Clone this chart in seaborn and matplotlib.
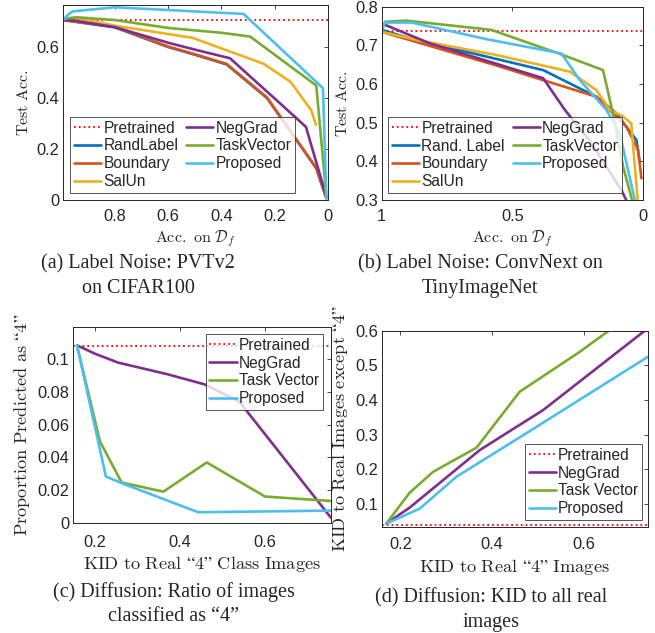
import pandas as pd
import matplotlib
matplotlib.use('Agg')
import matplotlib.pyplot as plt
import seaborn as sns
from matplotlib.ticker import FuncFormatter

# ---- (a) Label noise: PVTv2 on CIFAR100 ----
a_pretrained = 0.705
a_randlabel_x = [0.995, 0.80, 0.60, 0.50, 0.381, 0.229, 0.044, 0.006]
a_randlabel_y = [0.706, 0.677, 0.600, 0.570, 0.532, 0.400, 0.124, 0.006]
a_boundary_x = [0.995, 0.80, 0.60, 0.50, 0.381, 0.229, 0.044, 0.006]
a_boundary_y = [0.706, 0.679, 0.602, 0.572, 0.534, 0.402, 0.126, 0.008]
a_salun_x = [0.995, 0.94, 0.80, 0.60, 0.508, 0.241, 0.14, 0.063, 0.045]
a_salun_y = [0.706, 0.714, 0.684, 0.651, 0.636, 0.534, 0.463, 0.352, 0.295]
a_neggrad_x = [0.995, 0.952, 0.80, 0.60, 0.50, 0.368, 0.165, 0.083, 0.006]
a_neggrad_y = [0.706, 0.704, 0.678, 0.617, 0.590, 0.556, 0.365, 0.287, 0.013]
a_taskvec_x = [0.995, 0.946, 0.80, 0.60, 0.40, 0.292, 0.044, 0.006]
a_taskvec_y = [0.710, 0.717, 0.706, 0.675, 0.656, 0.641, 0.449, 0.013]
a_proposed_x = [0.995, 0.975, 0.959, 0.80, 0.317, 0.019, 0.006]
a_proposed_y = [0.706, 0.728, 0.740, 0.756, 0.730, 0.439, 0.006]

# ---- (b) Label noise: ConvNext on TinyImageNet ----
b_pretrained = 0.737
b_randlabel_x = [1.0, 0.892, 0.624, 0.382, 0.178, 0.102, 0.025, 0.013]
b_randlabel_y = [0.740, 0.718, 0.675, 0.636, 0.567, 0.524, 0.455, 0.40]
b_boundary_x = [1.0, 0.561, 0.382, 0.178, 0.115, 0.064, 0.019, 0.006]
b_boundary_y = [0.735, 0.648, 0.610, 0.567, 0.524, 0.490, 0.430, 0.356]
b_salun_x = [1.0, 0.866, 0.561, 0.28, 0.178, 0.127, 0.076, 0.045, 0.019]
b_salun_y = [0.735, 0.714, 0.675, 0.632, 0.584, 0.533, 0.516, 0.498, 0.29]
b_neggrad_x = [0.987, 0.815, 0.382, 0.299, 0.20, 0.083, 0.057]
b_neggrad_y = [0.753, 0.705, 0.615, 0.533, 0.45, 0.326, 0.29]
b_taskvec_x = [1.0, 0.987, 0.905, 0.58, 0.306, 0.153, 0.115, 0.076, 0.038]
b_taskvec_y = [0.740, 0.761, 0.764, 0.740, 0.675, 0.636, 0.524, 0.386, 0.29]
b_proposed_x = [1.0, 0.987, 0.885, 0.599, 0.312, 0.242, 0.14, 0.089, 0.028]
b_proposed_y = [0.740, 0.759, 0.759, 0.716, 0.679, 0.610, 0.533, 0.472, 0.29]

# ---- (c) Diffusion: ratio of images classified as "4" ----
c_pretrained = 0.108
c_neggrad_x = [0.158, 0.20, 0.255, 0.369, 0.459, 0.54, 0.755]
c_neggrad_y = [0.1086, 0.1035, 0.098, 0.091, 0.0846, 0.074, 0.003]
c_taskvec_x = [0.158, 0.212, 0.263, 0.361, 0.463, 0.60, 0.755]
c_taskvec_y = [0.1086, 0.0498, 0.0246, 0.019, 0.0369, 0.016, 0.0133]
c_proposed_x = [0.158, 0.226, 0.263, 0.443, 0.755]
c_proposed_y = [0.1086, 0.0283, 0.0242, 0.0064, 0.0074]

# ---- (d) Diffusion: KID to all real images ----
d_pretrained = 0.040
d_neggrad_x = [0.169, 0.22, 0.373, 0.511, 0.733]
d_neggrad_y = [0.044, 0.090, 0.256, 0.371, 0.600]
d_taskvec_x = [0.169, 0.22, 0.271, 0.366, 0.46, 0.591, 0.665]
d_taskvec_y = [0.044, 0.133, 0.193, 0.263, 0.424, 0.539, 0.61]
d_proposed_x = [0.169, 0.242, 0.322, 0.468, 0.74]
d_proposed_y = [0.044, 0.087, 0.179, 0.299, 0.525]

# MATLAB default colours
C_BLUE = '#0072BD'
C_ORANGE = '#D95319'
C_YELLOW = '#EDB120'
C_PURPLE = '#7E2F8E'
C_GREEN = '#77AC30'
C_CYAN = '#4DBEEE'

sns.set_style('white')
plt.rcParams['font.family'] = ['Liberation Sans', 'DejaVu Sans']
plt.rcParams['mathtext.fontset'] = 'cm'

fig = plt.figure(figsize=(6.55, 6.33), dpi=100)
W, H = 655, 633


def add_ax(left, top, right, bottom):
    return fig.add_axes([left / W, 1 - bottom / H, (right - left) / W, (bottom - top) / H])


def style_ax(ax, xpad):
    ax.tick_params(direction='in', top=True, right=True, length=3, width=0.6,
                   labelsize=11.8, colors='#262626', pad=2.5)
    ax.tick_params(axis='x', pad=xpad)
    for s in ax.spines.values():
        s.set_linewidth(0.7)
        s.set_color('#262626')
    fmt = FuncFormatter(lambda v, p: f'{v:g}')
    ax.xaxis.set_major_formatter(fmt)
    ax.yaxis.set_major_formatter(fmt)


def draw(ax, series, pretrained, legend_kw):
    ax.axhline(pretrained, color='red', linestyle=':', linewidth=1.3, label='Pretrained')
    for name, xs, ys, col in series:
        df = pd.DataFrame({'x': xs, 'y': ys})
        sns.lineplot(data=df, x='x', y='y', sort=False, estimator=None, color=col,
                     linewidth=1.9, label=name, ax=ax, legend=False)
    leg = ax.legend(frameon=True, fancybox=False, edgecolor='#262626', fontsize=11.2,
                    handlelength=1.75, handletextpad=0.15, labelspacing=0.18,
                    columnspacing=0.5, borderpad=0.25, borderaxespad=0, **legend_kw)
    leg.get_frame().set_linewidth(0.7)
    ax.set_xlabel('')
    ax.set_ylabel('')


top_lab = dict(fontsize=11.5)
bot_lab = dict(fontsize=13.2)

# (a)
ax_a = add_ax(63, 5, 328, 200)
draw(ax_a, [('RandLabel', a_randlabel_x, a_randlabel_y, C_BLUE),
            ('Boundary', a_boundary_x, a_boundary_y, C_ORANGE),
            ('SalUn', a_salun_x, a_salun_y, C_YELLOW),
            ('NegGrad', a_neggrad_x, a_neggrad_y, C_PURPLE),
            ('TaskVector', a_taskvec_x, a_taskvec_y, C_GREEN),
            ('Proposed', a_proposed_x, a_proposed_y, C_CYAN)],
     a_pretrained, dict(ncol=2, loc='lower left', bbox_to_anchor=(0.026, 0.036)))
ax_a.set_xlim(0.995, 0)
ax_a.set_ylim(0, 0.765)
ax_a.set_xticks([0.8, 0.6, 0.4, 0.2, 0])
ax_a.set_yticks([0, 0.2, 0.4, 0.6])
style_ax(ax_a, 6.5)
ax_a.set_xlabel(r'$\mathrm{Acc.\ on\ }\mathcal{D}_f$', labelpad=3, **top_lab)
ax_a.set_ylabel(r'$\mathrm{Test\ Acc.}$', labelpad=4, **top_lab)

# (b)
ax_b = add_ax(381.7, 6.7, 643, 200)
draw(ax_b, [('Rand. Label', b_randlabel_x, b_randlabel_y, C_BLUE),
            ('Boundary', b_boundary_x, b_boundary_y, C_ORANGE),
            ('SalUn', b_salun_x, b_salun_y, C_YELLOW),
            ('NegGrad', b_neggrad_x, b_neggrad_y, C_PURPLE),
            ('TaskVector', b_taskvec_x, b_taskvec_y, C_GREEN),
            ('Proposed', b_proposed_x, b_proposed_y, C_CYAN)],
     b_pretrained, dict(ncol=2, loc='lower left', bbox_to_anchor=(0.024, 0.036)))
ax_b.set_xlim(1, 0)
ax_b.set_ylim(0.3, 0.8)
ax_b.set_xticks([1, 0.5, 0])
ax_b.set_yticks([0.3, 0.4, 0.5, 0.6, 0.7, 0.8])
style_ax(ax_b, 6.5)
ax_b.set_xlabel(r'$\mathrm{Acc.\ on\ }\mathcal{D}_f$', labelpad=3, **top_lab)
ax_b.set_ylabel(r'$\mathrm{Test\ Acc.}$', labelpad=4, **top_lab)

# (c)
ax_c = add_ax(72.7, 326.7, 331, 522.7)
draw(ax_c, [('NegGrad', c_neggrad_x, c_neggrad_y, C_PURPLE),
            ('Task Vector', c_taskvec_x, c_taskvec_y, C_GREEN),
            ('Proposed', c_proposed_x, c_proposed_y, C_CYAN)],
     c_pretrained, dict(loc='upper right', bbox_to_anchor=(0.969, 0.963)))
ax_c.set_xlim(0.148, 0.755)
ax_c.set_ylim(0, 0.12)
ax_c.set_xticks([0.2, 0.4, 0.6])
ax_c.set_yticks([0, 0.02, 0.04, 0.06, 0.08, 0.1])
style_ax(ax_c, 8.5)
ax_c.set_xlabel(r'$\mathrm{KID\ to\ Real\ “4”\ Class\ Images}$', labelpad=3.5, **bot_lab)
ax_c.set_ylabel(r'$\mathrm{Proportion\ Predicted\ as\ “4”}$', labelpad=4, **bot_lab)

# (d)
ax_d = add_ax(381.7, 330.7, 648, 526.7)
draw(ax_d, [('NegGrad', d_neggrad_x, d_neggrad_y, C_PURPLE),
            ('Task Vector', d_taskvec_x, d_taskvec_y, C_GREEN),
            ('Proposed', d_proposed_x, d_proposed_y, C_CYAN)],
     d_pretrained, dict(loc='lower right', bbox_to_anchor=(0.978, 0.034)))
ax_d.set_xlim(0.159, 0.74)
ax_d.set_ylim(0.035, 0.6)
ax_d.set_xticks([0.2, 0.4, 0.6])
ax_d.set_yticks([0.1, 0.2, 0.3, 0.4, 0.5, 0.6])
style_ax(ax_d, 7.5)
ax_d.set_xlabel(r'$\mathrm{KID\ to\ Real\ “4”\ Images}$', labelpad=3.5, **bot_lab)
ax_d.set_ylabel(r'$\mathrm{KID\ to\ Real\ Images\ except\ “4”}$', labelpad=4, **bot_lab)

# captions
cap_kw = dict(ha='center', va='center', fontsize=14.5, family='Liberation Serif',
              linespacing=1.4)
fig.text(138 / W, 1 - 276 / H, '(a) Label Noise: PVTv2\non CIFAR100', **cap_kw)
fig.text(480 / W, 1 - 276 / H, '(b) Label Noise: ConvNext on\nTinyImageNet', **cap_kw)
fig.text(174 / W, 1 - 604 / H, '(c) Diffusion: Ratio of images\nclassified as “4”', **cap_kw)
fig.text(491 / W, 1 - 610 / H, '(d) Diffusion: KID to all real\nimages', **cap_kw)

fig.savefig('out.png', dpi=100)
